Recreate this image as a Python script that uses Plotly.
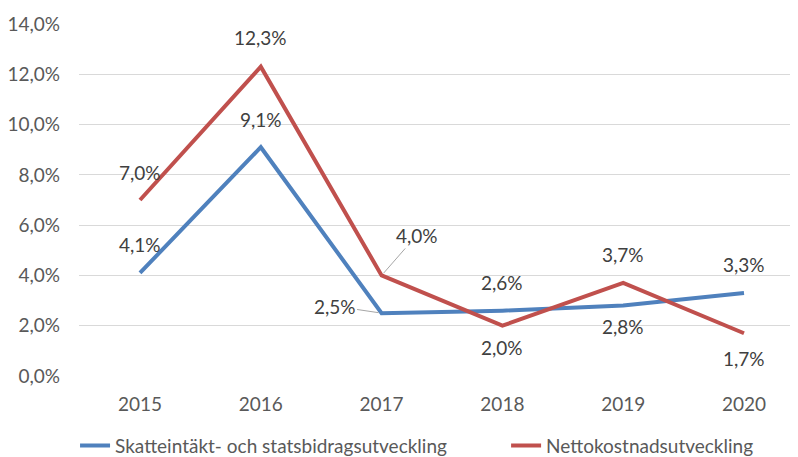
import plotly.graph_objects as go

years = ['2015', '2016', '2017', '2018', '2019', '2020']
skatt = [4.1, 9.1, 2.5, 2.6, 2.8, 3.3]
netto = [7.0, 12.3, 4.0, 2.0, 3.7, 1.7]
y_ticks = [0, 2, 4, 6, 8, 10, 12, 14]

# label placement per point: (dx, dy) in pixels, leader line or not
skatt_pos = [(0, -28, False), (0, -28, False), (-47, -7, True),
             (0, -28, False), (0, 21, False), (0, -29, False)]
netto_pos = [(0, -28, False), (0, -29, False), (35, -40, True),
             (0, 22, False), (0, -28, False), (0, 25, False)]

blue = '#4F81BD'
red = '#C0504D'
font_family = 'Lato, sans-serif'
fs = 19


def fmt(v):
    return f"{v:.1f}%".replace('.', ',')


fig = go.Figure()
fig.add_trace(go.Scatter(x=years, y=skatt, mode='lines',
                         name='Skatteintäkt- och statsbidragsutveckling',
                         line=dict(width=4, color=blue), legend='legend'))
fig.add_trace(go.Scatter(x=years, y=netto, mode='lines',
                         name='Nettokostnadsutveckling',
                         line=dict(width=4, color=red), legend='legend2'))

for values, pos in [(skatt, skatt_pos), (netto, netto_pos)]:
    for i, (v, (dx, dy, leader)) in enumerate(zip(values, pos)):
        if leader:
            fig.add_annotation(x=i, y=v, text=fmt(v), showarrow=True,
                               arrowhead=0, arrowwidth=1, arrowcolor='#A6A6A6',
                               ax=dx, ay=dy, standoff=3,
                               font=dict(size=fs, color='#404040', family=font_family))
        else:
            fig.add_annotation(x=i, y=v, text=fmt(v), showarrow=False,
                               xshift=dx, yshift=-dy,
                               font=dict(size=fs, color='#404040', family=font_family))

fig.update_xaxes(type='category', range=[-0.505, 5.447], showgrid=False,
                 showline=False, ticks='', zeroline=False, automargin=False,
                 ticklabelstandoff=15,
                 tickfont=dict(size=fs, color='#595959', family=font_family))
fig.update_yaxes(range=[0, 14], tickvals=y_ticks,
                 ticktext=[fmt(t) for t in y_ticks],
                 gridcolor='#D9D9D9', gridwidth=1, zeroline=False,
                 showline=False, ticks='', ticklabelstandoff=18, automargin=False,
                 tickfont=dict(size=fs, color='#595959', family=font_family))

legend_style = dict(orientation='h', y=-0.252, yanchor='bottom', xanchor='left',
                    bgcolor='rgba(0,0,0,0)',
                    font=dict(size=fs, color='#595959', family=font_family))

# page body has an 8px margin, so the figure is laid out 8px up/left
fig.update_layout(width=790, height=457,
                  margin=dict(l=71, r=0, t=16, b=89),
                  plot_bgcolor='white', paper_bgcolor='white',
                  font=dict(family=font_family),
                  showlegend=True,
                  legend=dict(x=-0.0055, **legend_style),
                  legend2=dict(x=0.594, **legend_style))

fig.write_html("out.html")
